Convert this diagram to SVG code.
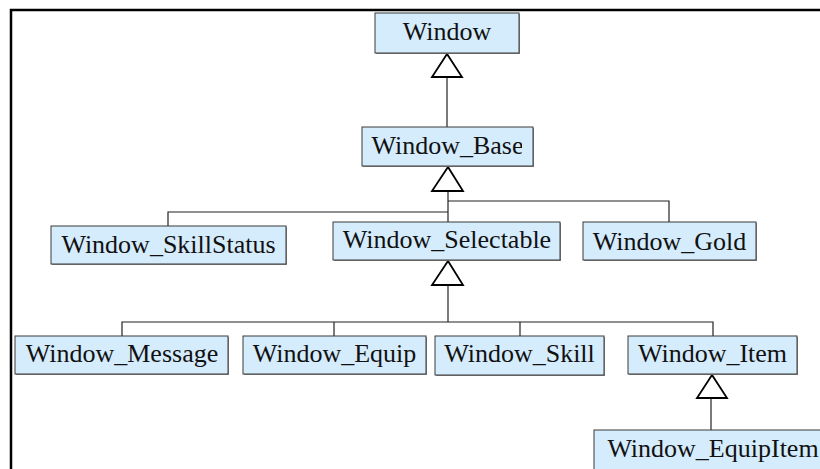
<svg xmlns="http://www.w3.org/2000/svg" width="820" height="469" viewBox="0 0 820 469">
  <style>
    .shadow { fill: #8a8a8a; }
    .box { fill: #d5ecfd; stroke: #3a3a3a; stroke-width: 1; }
    .label { font-family: "Liberation Serif", "Times New Roman", serif; font-size: 26px; fill: #111; text-anchor: middle; }
    .wire { fill: none; stroke: #222; stroke-width: 1.2; }
    .tri { fill: #fff; stroke: #000; stroke-width: 1.8; stroke-linejoin: miter; }
    .frame { fill: none; stroke: #000; stroke-width: 2.5; }
  </style>
  <defs>
    <clipPath id="clipBase"><rect x="362" y="127" width="160" height="39"/></clipPath>
    <clipPath id="clipSelectable"><rect x="333" y="222" width="218" height="38"/></clipPath>
    <clipPath id="clipMessage"><rect x="15" y="336" width="203" height="38"/></clipPath>
  </defs>

  <rect width="820" height="469" fill="#fff"/>
  <!-- page frame -->
  <polyline class="frame" points="11,469 11,10 820,10"/>

  <!-- connectors -->
  <g id="connectors">
    <line class="wire" x1="447" y1="77" x2="447" y2="127"/>
    <polyline class="wire" points="448,191 448,222"/>
    <polyline class="wire" points="448,201 669,201 669,222"/>
    <polyline class="wire" points="448,212 168,212 168,226"/>
    <polyline class="wire" points="448,285 448,322"/>
    <polyline class="wire" points="122,336 122,322 713,322 713,336"/>
    <line class="wire" x1="334" y1="322" x2="334" y2="336"/>
    <line class="wire" x1="520" y1="322" x2="520" y2="336"/>
    <line class="wire" x1="711" y1="398" x2="711" y2="430"/>
    <polygon class="tri" points="447,54 432,77 462,77"/>
    <polygon class="tri" points="448,167 432,191 463,191"/>
    <polygon class="tri" points="448,261 432,285 463,285"/>
    <polygon class="tri" points="712,375 697,398 727,398"/>
  </g>

  <g id="Window">
    <rect class="shadow" x="376" y="14" width="144" height="40"/>
    <rect class="box" x="375" y="13" width="144" height="40"/>
    <text class="label" x="447" y="40">Window</text>
  </g>

  <g id="Window_Base">
    <rect class="shadow" x="363" y="128" width="171" height="39"/>
    <rect class="box" x="362" y="127" width="171" height="39"/>
    <text class="label" x="447.5" y="154" clip-path="url(#clipBase)">Window_Base</text>
  </g>

  <g id="Window_SkillStatus">
    <rect class="shadow" x="52" y="227" width="235" height="38"/>
    <rect class="box" x="51" y="226" width="235" height="38"/>
    <text class="label" x="168.5" y="253">Window_SkillStatus</text>
  </g>

  <g id="Window_Selectable">
    <rect class="shadow" x="334" y="223" width="227" height="38"/>
    <rect class="box" x="333" y="222" width="227" height="38"/>
    <text class="label" x="447" y="248" clip-path="url(#clipSelectable)">Window_Selectable</text>
  </g>

  <g id="Window_Gold">
    <rect class="shadow" x="584" y="223" width="173" height="38"/>
    <rect class="box" x="583" y="222" width="173" height="38"/>
    <text class="label" x="669.5" y="250">Window_Gold</text>
  </g>

  <g id="Window_Message">
    <rect class="shadow" x="16" y="337" width="213" height="38"/>
    <rect class="box" x="15" y="336" width="213" height="38"/>
    <text class="label" x="122" y="362" clip-path="url(#clipMessage)">Window_Message</text>
  </g>

  <g id="Window_Equip">
    <rect class="shadow" x="244" y="337" width="183" height="38"/>
    <rect class="box" x="243" y="336" width="183" height="38"/>
    <text class="label" x="334.5" y="362">Window_Equip</text>
  </g>

  <g id="Window_Skill">
    <rect class="shadow" x="436" y="337" width="169" height="39"/>
    <rect class="box" x="435" y="336" width="169" height="39"/>
    <text class="label" x="519.5" y="362">Window_Skill</text>
  </g>

  <g id="Window_Item">
    <rect class="shadow" x="629" y="337" width="169" height="38"/>
    <rect class="box" x="628" y="336" width="169" height="38"/>
    <text class="label" x="712.5" y="362">Window_Item</text>
  </g>

  <g id="Window_EquipItem">
    <rect class="shadow" x="595" y="431" width="238" height="40"/>
    <rect class="box" x="594" y="430" width="238" height="40"/>
    <text class="label" x="713" y="457">Window_EquipItem</text>
  </g>
</svg>
